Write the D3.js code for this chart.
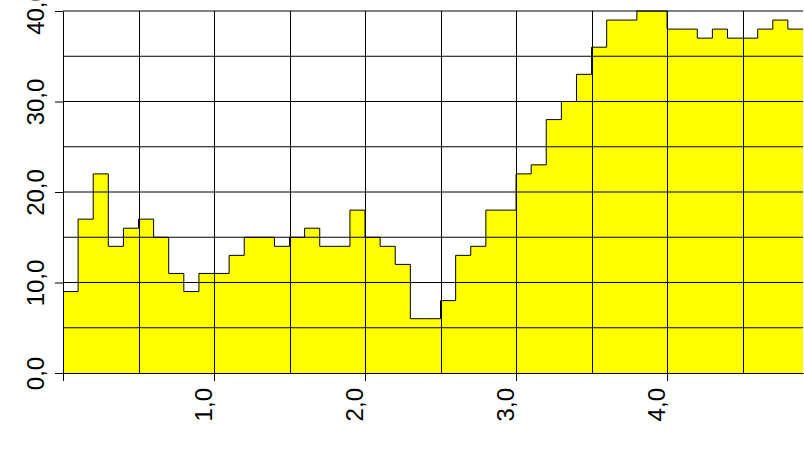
<!DOCTYPE html>
<html>
<head>
<meta charset="utf-8">
<script src="https://cdn.jsdelivr.net/npm/d3@7"></script>
<style>
  body { margin: 0; background: #fff; }
  svg { display: block; }
</style>
</head>
<body>
<div id="chart"></div>
<script>
// bins of width 0,1 - left edges and heights
const binStart = [0.0, 0.1, 0.2, 0.3, 0.4, 0.5, 0.6, 0.7, 0.8, 0.9,
                  1.0, 1.1, 1.2, 1.3, 1.4, 1.5, 1.6, 1.7, 1.8, 1.9,
                  2.0, 2.1, 2.2, 2.3, 2.4, 2.5, 2.6, 2.7, 2.8, 2.9,
                  3.0, 3.1, 3.2, 3.3, 3.4, 3.5, 3.6, 3.7, 3.8, 3.9,
                  4.0, 4.1, 4.2, 4.3, 4.4, 4.5, 4.6, 4.7, 4.8];
const binEnd = 4.9;
const counts = [9, 17, 22, 14, 16, 17, 15, 11, 9, 11,
                11, 13, 15, 15, 14, 15, 16, 14, 14, 18,
                15, 14, 12, 6, 6, 8, 13, 14, 18, 18,
                22, 23, 28, 30, 33, 36, 39, 39, 40, 40,
                38, 38, 37, 38, 37, 37, 38, 39, 38];

const xTicks = [0, 1, 2, 3, 4];
const xGrid = [0.5, 1, 1.5, 2, 2.5, 3, 3.5, 4, 4.5];
const yTicks = [0, 10, 20, 30, 40];
const yGrid = [5, 10, 15, 20, 25, 30, 35, 40];

const width = 804, height = 450;
const svg = d3.select("#chart").append("svg")
    .attr("width", width)
    .attr("height", height);

const x = d3.scaleLinear().domain([0, binEnd]).range([63, 803]);
const y = d3.scaleLinear().domain([0, 40]).range([373, 11]);

const comma = v => d3.format(".1f")(v).replace(".", ",");

// step points, last value repeated at the right edge
const pts = binStart.map((s, i) => [s, counts[i]]);
pts.push([binEnd, counts[counts.length - 1]]);

svg.append("path")
    .datum(pts)
    .attr("fill", "#ffff00")
    .attr("d", d3.area().curve(d3.curveStepAfter)
        .x(d => x(d[0])).y0(y(0)).y1(d => y(d[1])));

svg.append("path")
    .datum(pts)
    .attr("fill", "none")
    .attr("stroke", "#000")
    .attr("stroke-width", 1)
    .attr("d", d3.line().curve(d3.curveStepAfter)
        .x(d => x(d[0])).y(d => y(d[1])));

// grid on top of the fill
svg.append("g").selectAll("line")
    .data(yGrid)
    .join("line")
    .attr("x1", x(0)).attr("x2", x(binEnd))
    .attr("y1", d => y(d)).attr("y2", d => y(d))
    .attr("stroke", "#000").attr("stroke-width", 1);

svg.append("g").selectAll("line")
    .data(xGrid)
    .join("line")
    .attr("x1", d => Math.round(x(d)) + 0.5).attr("x2", d => Math.round(x(d)) + 0.5)
    .attr("y1", y(40)).attr("y2", y(0))
    .attr("stroke", "#000").attr("stroke-width", 1);

// axes
const xAxis = svg.append("g")
    .attr("transform", `translate(0,${y(0)})`)
    .call(d3.axisBottom(x).tickValues(xTicks).tickSize(8).tickSizeOuter(0)
        .tickFormat(d => d === 0 ? "" : comma(d)));

xAxis.selectAll("text")
    .attr("transform", "rotate(-90)")
    .attr("text-anchor", "end")
    .attr("x", -15)
    .attr("y", -3)
    .attr("dy", 0);

const yAxis = svg.append("g")
    .attr("transform", `translate(${x(0)},0)`)
    .call(d3.axisLeft(y).tickValues(yTicks).tickSize(8).tickSizeOuter(0)
        .tickFormat(comma));

yAxis.selectAll("text")
    .attr("transform", "rotate(-90)")
    .attr("text-anchor", "middle")
    .attr("x", 0)
    .attr("y", -19)
    .attr("dy", 0);

svg.selectAll(".tick text")
    .attr("font-family", "'Liberation Sans', Arial, sans-serif")
    .attr("font-size", 24)
    .attr("fill", "#000");
svg.selectAll(".tick line").attr("stroke", "#000");
svg.selectAll(".domain").attr("stroke", "#000");
</script>
</body>
</html>
